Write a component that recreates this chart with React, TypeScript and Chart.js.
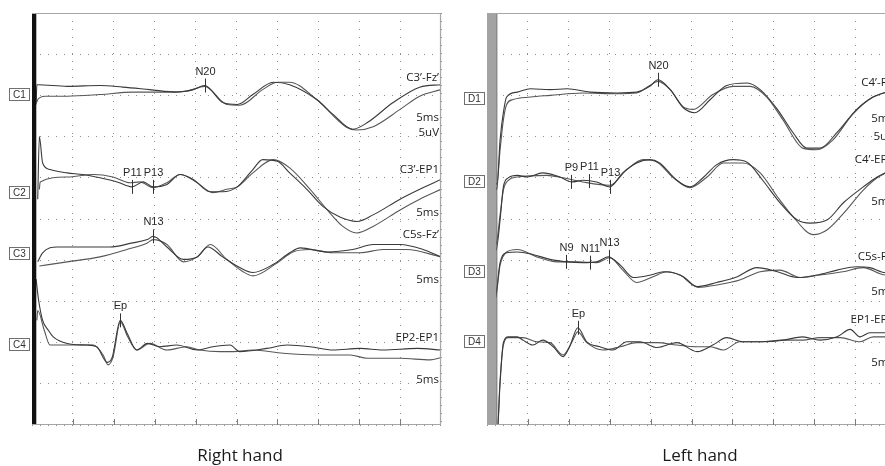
import { useEffect, useRef } from "react";
import { Chart, registerables } from "chart.js";

Chart.register(...registerables);

// Time axis: ms, 5 ms / division, 10 divisions
const TIME_MIN = 0;
const TIME_MAX = 50;
const TIME_STEP = 5;
// Amplitude axis: µV, 5 µV / division, 10 divisions
const AMP_MIN = 0;
const AMP_MAX = 50;
const AMP_STEP = 5;

// ---------------- Right hand (left panel) ----------------
const rhChannels = ["C1", "C2", "C3", "C4"];
const rhMontages = ["C3’-Fz’", "C3’-EP1", "C5s-Fz’", "EP2-EP1"];
const rhSweep = ["5ms", "5ms", "5ms", "5ms"];
const rhGain = ["5uV", "", "", ""];
const rhBaselines = [40.0, 28.2, 20.8, 9.7];

const rhC1aTime = [0.5, 0.6, 0.7, 4.3, 8.3, 11.1, 14.4, 17.7, 19.7, 21.1, 23.4, 25.1, 27.0, 29.5, 31.5, 34.8, 36.8, 39.2, 41.0, 44.1, 47.4, 50];
const rhC1aAmp = [-1.1, 1.3, 1.3, 1.1, 1.2, 1.0, 0.7, 0.4, 0.7, 1.2, -0.9, -1.1, 0.1, 1.6, 1.3, -0.5, -2.3, -4.1, -3.3, -0.9, 1.0, 1.3];
const rhC1bTime = [0.6, 0.7, 1.6, 4.3, 8.3, 12.3, 16.5, 18.9, 21.1, 23.8, 25.4, 28.2, 30.0, 31.5, 34.8, 38.5, 39.7, 41.7, 45.0, 47.4, 50];
const rhC1bAmp = [-0.8, -0.5, -0.1, -0.1, 0.1, 0.4, 0.4, 0.5, 1.1, -1.1, -1.2, 0.7, 1.6, 1.6, -0.5, -3.9, -4.2, -3.8, -1.7, -0.1, 0.7];

const rhC2aTime = [0.7, 0.9, 1.3, 2.2, 4.3, 6.2, 8.3, 10.4, 12.2, 13.6, 14.8, 16.5, 18.1, 19.7, 21.8, 23.3, 25.1, 27.0, 28.2, 30.0, 31.5, 33.6, 35.6, 37.7, 39.7, 41.7, 45.0, 47.4, 50];
const rhC2aAmp = [-0.8, 6.8, 3.6, 2.8, 2.4, 2.2, 1.8, 1.3, 0.7, 1.3, 0.7, 1.0, 2.2, 1.6, 0.1, 0.1, 0.7, 2.8, 4.0, 3.8, 2.4, 0.4, -1.7, -3.0, -3.5, -2.7, -0.8, 0.4, 1.6];
const rhC2bTime = [0.9, 1.0, 4.3, 7.5, 9.9, 12.0, 13.2, 14.8, 16.5, 18.1, 20.2, 22.1, 23.8, 25.1, 27.0, 29.5, 31.5, 34.0, 36.1, 38.0, 39.7, 41.7, 45.0, 47.4, 50];
const rhC2bAmp = [0.4, 1.3, 1.9, 2.2, 1.9, 1.2, 1.3, 0.6, 1.2, 2.2, 1.2, 0.0, 0.4, 0.7, 2.4, 4.0, 3.0, 0.4, -2.1, -4.1, -4.9, -4.1, -2.1, -0.8, 0.4];

const rhC3aTime = [0.7, 1.3, 3.1, 6.2, 9.5, 12.3, 14.1, 14.8, 16.5, 18.5, 20.2, 21.5, 23.3, 25.4, 27.0, 29.5, 31.5, 32.8, 36.1, 39.2, 41.7, 45.0, 47.8, 50];
const rhC3aAmp = [-1.0, 0.1, 0.8, 0.8, 0.8, 1.3, 1.7, 2.1, 0.8, -0.7, -0.4, 0.8, -0.4, -1.7, -2.3, -1.3, 0.1, 0.7, 0.2, 0.5, 1.1, 1.1, 0.5, -0.4];
const rhC3bTime = [0.9, 4.3, 8.3, 11.6, 14.1, 14.8, 16.5, 18.5, 20.2, 21.8, 23.8, 25.8, 27.0, 30.0, 31.9, 34.0, 36.8, 40.1, 42.9, 45.8, 50];
const rhC3bAmp = [-1.5, -1.0, -0.4, 0.5, 1.3, 1.7, 1.1, -1.0, -0.4, 1.1, -0.7, -2.2, -2.7, -1.1, 0.2, 0.5, 0.1, 0.1, 0.5, 0.5, -0.4];

const rhC4aTime = [0.5, 0.8, 1.3, 2.0, 2.6, 4.3, 6.7, 7.9, 9.2, 9.8, 10.8, 11.6, 12.8, 14.1, 15.6, 17.7, 20.2, 22.1, 24.2, 25.4, 28.7, 31.2, 34.0, 36.8, 40.1, 42.9, 47.1, 50];
const rhC4aAmp = [8.0, 5.5, 3.0, 1.8, 1.0, 0.2, 0.0, -0.2, -2.1, -1.5, 3.0, 1.5, -0.6, 0.2, -0.2, 0.0, -0.6, -0.2, 0.0, -0.8, -0.4, 0.0, -0.2, -0.6, -0.4, -0.6, -0.4, -0.6];
const rhC4bTime = [0.6, 0.7, 1.5, 2.2, 4.3, 7.5, 8.7, 9.3, 9.9, 10.8, 11.7, 12.8, 14.4, 16.5, 18.9, 20.5, 23.0, 24.6, 27.0, 30.7, 34.8, 38.9, 41.0, 45.0, 48.7, 50];
const rhC4bAmp = [3.0, 4.2, 1.8, 0.0, 0.0, 0.0, -1.2, -2.4, -1.5, 2.8, 1.0, -0.6, 0.2, -0.6, -0.2, -0.6, -0.8, -0.8, -0.6, -1.0, -1.2, -1.2, -1.6, -1.6, -1.8, -1.5];

const rhMarkerNames = ["N20", "P11", "P13", "N13", "Ep"];
const rhMarkerChannel = [0, 1, 1, 2, 3];
const rhMarkerTime = [21.1, 12.2, 14.8, 14.8, 10.8];
const rhMarkerAmp = [1.2, 0.7, 0.7, 2.1, 3.0];

// ---------------- Left hand (right panel) ----------------
const lhChannels = ["D1", "D2", "D3", "D4"];
const lhMontages = ["C4’-Fz’", "C4’-EP1", "C5s-Fz’", "EP1-EP2"];
const lhSweep = ["5ms", "5ms", "5ms", "5ms"];
const lhGain = ["5uV", "", "", ""];
const lhBaselines = [39.6, 29.5, 18.6, 10.1];

const lhD1aTime = [0, 1.2, 1.6, 2.0, 2.4, 3.7, 5.3, 7.7, 9.8, 12.6, 15.9, 18.3, 19.9, 20.9, 22.4, 24.0, 25.4, 27.3, 29.3, 31.8, 33.4, 35.5, 37.4, 39.1, 40.7, 42.8, 45.2, 47.2, 50];
const lhD1aAmp = [0, -11.0, -5.0, -1.7, 0.2, 0.8, 1.2, 1.1, 1.2, 0.8, 0.7, 0.8, 1.5, 2.3, 1.1, -1.1, -1.7, -0.1, 1.6, 1.9, 1.1, -1.3, -4.1, -6.0, -6.0, -4.1, -1.3, 0.2, 1.1];
const lhD1bTime = [0, 1.2, 1.6, 2.0, 2.4, 3.2, 5.3, 7.7, 11.7, 15.9, 18.3, 19.9, 20.9, 22.4, 24.0, 25.2, 27.6, 30.1, 32.2, 34.2, 36.2, 38.6, 40.3, 42.3, 44.7, 47.2, 50];
const lhD1bAmp = [0, -10.4, -6.2, -2.6, -0.7, -0.1, 0.2, 0.4, 0.7, 0.6, 0.7, 1.6, 2.1, 1.1, -1.0, -1.3, 0.5, 1.5, 1.5, 0.2, -2.6, -6.0, -6.2, -5.0, -1.9, 0.2, 1.1];

const lhD2aTime = [0, 1.1, 1.6, 2.0, 2.6, 3.7, 4.9, 6.8, 8.9, 10.4, 11.7, 13.4, 15.0, 16.6, 18.3, 19.9, 21.1, 23.2, 24.8, 26.4, 28.1, 30.1, 31.8, 33.7, 35.8, 37.9, 39.5, 41.6, 43.6, 46.0, 47.7, 50];
const lhD2aAmp = [0, -8.3, -4.6, -0.6, 0.5, 0.8, 0.6, 1.1, 0.6, 0.0, 0.2, 0.0, -0.6, 1.1, 2.3, 2.7, 2.3, 0.2, -0.6, 0.5, 2.1, 2.7, 2.4, 0.2, -2.5, -4.6, -5.0, -4.6, -2.5, -0.6, 0.6, 1.7];
const lhD2bTime = [0, 1.1, 1.6, 2.0, 2.6, 3.7, 7.3, 9.3, 11.7, 15.0, 17.1, 19.1, 20.8, 22.7, 24.8, 26.9, 28.9, 31.3, 33.4, 35.5, 37.4, 39.9, 41.6, 43.6, 46.0, 47.7, 50];
const lhD2bAmp = [0, -7.6, -4.0, -1.0, 0.2, 0.6, 0.8, 0.5, 0.0, -0.4, 1.5, 2.7, 2.4, 0.6, -0.7, 0.6, 2.3, 2.3, 1.1, -1.8, -4.2, -6.4, -5.8, -3.8, -1.0, 0.5, 1.7];

const lhD3aTime = [0, 1.0, 1.6, 2.4, 3.7, 5.6, 7.7, 9.8, 11.7, 13.4, 14.8, 16.3, 17.9, 20.0, 21.6, 23.6, 25.7, 28.1, 30.6, 33.0, 35.5, 37.9, 40.3, 42.8, 45.2, 46.8, 48.7, 50];
const lhD3aAmp = [0, -3.0, 1.1, 2.3, 2.4, 2.1, 1.5, 1.2, 1.1, 1.2, 1.8, 0.8, -0.7, -0.4, 0.0, -0.4, -1.8, -1.3, -0.6, 0.5, 0.0, -0.7, -0.4, 0.2, 0.6, 0.5, -0.1, 0.0];
const lhD3bTime = [0, 1.0, 1.6, 2.4, 3.7, 6.1, 8.6, 11.0, 13.4, 15.0, 16.6, 18.3, 20.3, 22.0, 24.0, 25.8, 28.1, 30.9, 33.4, 35.8, 38.3, 40.7, 43.5, 46.0, 48.7, 50];
const lhD3bAmp = [0, -3.4, 0.8, 2.4, 2.7, 1.8, 1.2, 1.2, 1.1, 1.7, 0.2, -1.3, -0.6, 0.0, -0.6, -1.9, -1.6, -1.0, 0.0, 0.2, -0.7, -0.4, 0.0, 0.5, -0.4, -0.4];

const lhD4aTime = [0, 1.2, 1.6, 2.0, 2.6, 3.7, 4.4, 5.6, 6.8, 8.1, 9.3, 10.1, 11.1, 12.2, 13.8, 15.4, 17.1, 18.7, 20.8, 23.2, 25.7, 27.6, 29.3, 31.3, 33.7, 36.2, 38.6, 40.7, 42.8, 44.4, 45.6, 46.8, 48.7, 50];
const lhD4aAmp = [0, -11.9, -5.0, -0.1, 0.6, 0.6, 0.2, -0.4, 0.2, -0.6, -1.8, -0.6, 1.7, 0.0, -0.6, -1.0, 0.0, 0.0, -0.7, -0.1, -1.2, -0.4, 0.5, 0.0, 0.0, 0.2, 0.6, 0.2, 0.6, 1.5, 0.6, 1.1, 1.1, 1.2];
const lhD4bTime = [0, 1.2, 1.6, 2.0, 2.6, 3.7, 4.4, 6.1, 7.7, 9.3, 10.4, 11.1, 12.2, 14.2, 16.3, 18.3, 20.8, 23.2, 25.7, 27.3, 28.9, 30.9, 33.4, 36.2, 38.6, 40.7, 43.2, 45.6, 47.2, 48.7, 50];
const lhD4bAmp = [0, -11.9, -4.6, -0.4, 0.5, 0.5, 0.5, 0.0, -0.1, -1.6, 0.0, 1.2, -0.1, -1.0, -0.6, -0.1, -0.1, -0.4, -0.6, -0.6, -1.0, 0.0, 0.0, 0.2, 0.2, 0.5, 0.5, 0.0, 0.6, 0.6, 0.7];

const lhMarkerNames = ["N20", "P9", "P11", "P13", "N9", "N11", "N13", "Ep"];
const lhMarkerChannel = [0, 1, 1, 1, 2, 2, 2, 3];
const lhMarkerTime = [20.9, 10.3, 12.5, 15.0, 9.7, 12.6, 14.9, 11.1];
const lhMarkerAmp = [2.3, 0.0, 0.1, -0.6, 1.2, 1.1, 1.8, 1.7];

// ---------------- panel specs (layout / style) ----------------
const TRACE_COLORS = ["#3a3a3a", "#575757"];

const rightHandPanel = {
  title: "Right hand",
  channels: rhChannels,
  montages: rhMontages,
  sweep: rhSweep,
  gain: rhGain,
  baselines: rhBaselines,
  traces: [
    { ch: 0, t: rhC1aTime, v: rhC1aAmp }, { ch: 0, t: rhC1bTime, v: rhC1bAmp },
    { ch: 1, t: rhC2aTime, v: rhC2aAmp }, { ch: 1, t: rhC2bTime, v: rhC2bAmp },
    { ch: 2, t: rhC3aTime, v: rhC3aAmp }, { ch: 2, t: rhC3bTime, v: rhC3bAmp },
    { ch: 3, t: rhC4aTime, v: rhC4aAmp }, { ch: 3, t: rhC4bTime, v: rhC4bAmp },
  ],
  markers: { names: rhMarkerNames, ch: rhMarkerChannel, t: rhMarkerTime, v: rhMarkerAmp },
  bars: [{ t: 0.25, color: "#111111", width: 4.5 }],
  canvasLeft: 0,
  canvasWidth: 450,
  padding: { left: 32, top: 13, right: 9, bottom: 41 },
  montageDy: [-18, -23, -19, -7],
  sweepDy: [22, 20, 26, 35],
  gainDy: [37, 0, 0, 0],
  titleX: 240,
};

const leftHandPanel = {
  title: "Left hand",
  channels: lhChannels,
  montages: lhMontages,
  sweep: lhSweep,
  gain: lhGain,
  baselines: lhBaselines,
  traces: [
    { ch: 0, t: lhD1aTime, v: lhD1aAmp }, { ch: 0, t: lhD1bTime, v: lhD1bAmp },
    { ch: 1, t: lhD2aTime, v: lhD2aAmp }, { ch: 1, t: lhD2bTime, v: lhD2bAmp },
    { ch: 2, t: lhD3aTime, v: lhD3aAmp }, { ch: 2, t: lhD3bTime, v: lhD3bAmp },
    { ch: 3, t: lhD4aTime, v: lhD4aAmp }, { ch: 3, t: lhD4bTime, v: lhD4bAmp },
  ],
  markers: { names: lhMarkerNames, ch: lhMarkerChannel, t: lhMarkerTime, v: lhMarkerAmp },
  bars: [
    { t: 0.55, color: "#a3a3a3", width: 9 },
    { t: 0.3, color: "#1e1e1e", width: 2 },
    { t: 1.2, color: "#555555", width: 1 },
  ],
  canvasLeft: 450,
  canvasWidth: 460,
  padding: { left: 37, top: 13, right: 14, bottom: 41 },
  montageDy: [-16, -22, -15, -22],
  sweepDy: [20, 20, 20, 21],
  gainDy: [38, 0, 0, 0],
  titleX: 250,
};

function overlayPlugin(panel: any) {
  return {
    id: "overlay",
    afterDraw(chart: any) {
      const { ctx, chartArea, scales } = chart;
      const { left, right, top, bottom } = chartArea;
      const xs = scales.x;
      const ys = scales.y;
      ctx.save();

      // frame
      ctx.strokeStyle = "#a6a6a6";
      ctx.lineWidth = 1.2;
      ctx.beginPath();
      ctx.moveTo(left, top + 0.5);
      ctx.lineTo(right - 0.5, top + 0.5);
      ctx.lineTo(right - 0.5, bottom - 0.5);
      ctx.lineTo(left, bottom - 0.5);
      ctx.stroke();

      // bottom ticks
      ctx.strokeStyle = "#7a7a7a";
      ctx.lineWidth = 1;
      for (let v = TIME_MIN + TIME_STEP; v < TIME_MAX; v += TIME_STEP) {
        const px = Math.round(xs.getPixelForValue(v)) + 0.5;
        ctx.beginPath();
        ctx.moveTo(px, bottom);
        ctx.lineTo(px, bottom - 6);
        ctx.stroke();
      }

      // channel boxes
      ctx.font = '10px "Liberation Sans", Arial, sans-serif';
      ctx.textAlign = "center";
      ctx.textBaseline = "middle";
      panel.channels.forEach((name: string, i: number) => {
        const py = Math.round(ys.getPixelForValue(panel.baselines[i]));
        const bw = 21;
        const bx = left - 2 - bw;
        ctx.fillStyle = "#ffffff";
        ctx.fillRect(bx, py - 7, bw, 13);
        ctx.strokeStyle = "#707070";
        ctx.lineWidth = 1;
        ctx.strokeRect(bx + 0.5, py - 6.5, bw - 1, 12);
        ctx.fillStyle = "#333333";
        ctx.fillText(name, bx + bw / 2, py);
      });

      // montage / sweep / gain labels
      ctx.font = '11.5px "Open Sans", sans-serif';
      ctx.textAlign = "right";
      ctx.fillStyle = "#222222";
      panel.montages.forEach((m: string, i: number) => {
        const py = ys.getPixelForValue(panel.baselines[i]);
        ctx.fillText(m, right - 2, py + panel.montageDy[i]);
        ctx.fillText(panel.sweep[i], right - 2, py + panel.sweepDy[i]);
        if (panel.gain[i]) ctx.fillText(panel.gain[i], right - 2, py + panel.gainDy[i]);
      });

      // peak markers
      const mk = panel.markers;
      ctx.font = '11px "Liberation Sans", Arial, sans-serif';
      ctx.textAlign = "center";
      ctx.textBaseline = "middle";
      mk.names.forEach((name: string, i: number) => {
        const px = Math.round(xs.getPixelForValue(mk.t[i])) + 0.5;
        const py = ys.getPixelForValue(panel.baselines[mk.ch[i]] + mk.v[i]);
        ctx.strokeStyle = "#333333";
        ctx.lineWidth = 1;
        ctx.beginPath();
        ctx.moveTo(px, py - 7);
        ctx.lineTo(px, py + 7);
        ctx.stroke();
        ctx.fillStyle = "#2a2a2a";
        ctx.fillText(name, px, py - 14);
      });

      // panel title
      ctx.font = '17px "Open Sans", sans-serif';
      ctx.textAlign = "center";
      ctx.textBaseline = "alphabetic";
      ctx.fillStyle = "#1a1a1a";
      ctx.fillText(panel.title, panel.titleX, 461);

      ctx.restore();
    },
  };
}

function buildConfig(panel: any): any {
  const datasets: any[] = [];
  panel.traces.forEach((tr: any, k: number) => {
    datasets.push({
      data: tr.t.map((t: number, i: number) => ({ x: t, y: panel.baselines[tr.ch] + tr.v[i] })),
      borderColor: TRACE_COLORS[k % 2],
      borderWidth: 1.1,
      pointRadius: 0,
      cubicInterpolationMode: "monotone",
      fill: false,
      order: 1,
    });
  });
  panel.bars.forEach((b: any) => {
    datasets.push({
      data: [{ x: b.t, y: AMP_MIN }, { x: b.t, y: AMP_MAX }],
      borderColor: b.color,
      borderWidth: b.width,
      pointRadius: 0,
      fill: false,
      order: -1,
    });
  });
  const axis = (min: number, max: number, step: number) => ({
    type: "linear",
    min,
    max,
    ticks: { display: false, stepSize: step },
    grid: { color: "#8f8f8f", lineWidth: 1, drawTicks: false },
    border: { display: false, dash: [1, 7] },
  });
  return {
    type: "line",
    data: { datasets },
    options: {
      animation: false,
      responsive: false,
      maintainAspectRatio: false,
      events: [],
      layout: { padding: panel.padding },
      plugins: { legend: { display: false }, tooltip: { enabled: false }, title: { display: false } },
      scales: {
        x: axis(TIME_MIN, TIME_MAX, TIME_STEP),
        y: axis(AMP_MIN, AMP_MAX, AMP_STEP),
      },
    },
    plugins: [overlayPlugin(panel)],
  };
}

function Panel({ panel }: { panel: any }) {
  const ref = useRef<HTMLCanvasElement>(null);
  useEffect(() => {
    const chart = new Chart(ref.current as HTMLCanvasElement, buildConfig(panel));
    return () => chart.destroy();
  }, [panel]);
  return (
    <canvas
      ref={ref}
      width={panel.canvasWidth}
      height={466}
      style={{ position: "absolute", left: panel.canvasLeft, top: 0, width: panel.canvasWidth, height: 466 }}
    />
  );
}

export default function App() {
  return (
    <div
      style={{
        position: "fixed",
        left: 0,
        top: 0,
        width: 885,
        height: 466,
        overflow: "hidden",
        background: "#ffffff",
      }}
    >
      <Panel panel={rightHandPanel} />
      <Panel panel={leftHandPanel} />
    </div>
  );
}
